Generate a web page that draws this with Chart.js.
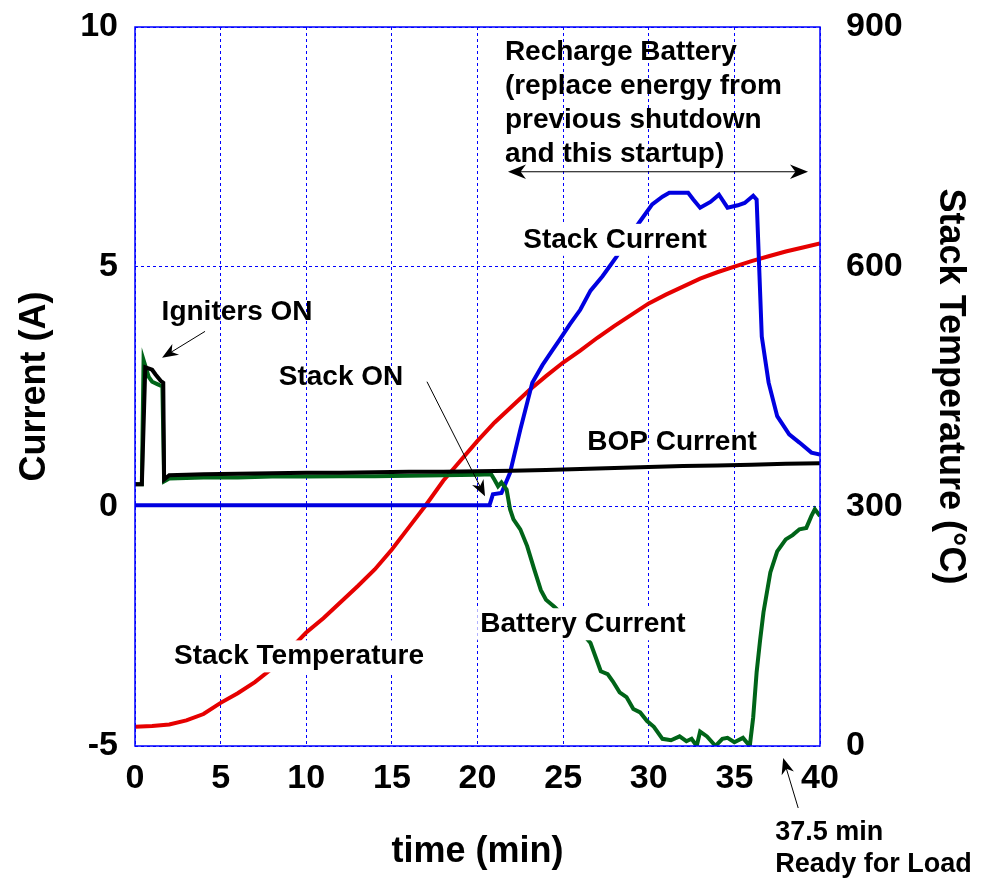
<!DOCTYPE html>
<html>
<head>
<meta charset="utf-8">
<script src="https://cdn.jsdelivr.net/npm/chart.js@4.4.1/dist/chart.umd.min.js"></script>
<style>
  html, body { margin: 0; padding: 0; background: #fff; }
  #wrap { width: 992px; height: 878px; }
</style>
</head>
<body>
<div id="wrap"><canvas id="chart"></canvas></div>
<script>
// time axis ticks (min)
const timeTicks = [0, 5, 10, 15, 20, 25, 30, 35, 40];

// BOP current (A)
const bopTime = [0, 0.4, 0.6, 1.0, 1.2, 1.5, 1.65, 1.7, 2.0, 3, 4, 6, 8, 10, 12, 14, 16, 18, 20, 22, 24, 26, 28, 30, 32, 34, 36, 38, 40];
const bopCurrent = [0.46, 0.46, 2.9, 2.85, 2.75, 2.62, 2.58, 0.56, 0.65, 0.66, 0.67, 0.68, 0.69, 0.7, 0.7, 0.71, 0.72, 0.72, 0.73, 0.74, 0.76, 0.78, 0.8, 0.82, 0.84, 0.85, 0.87, 0.89, 0.9];

// Battery current (A)
const batTime = [0, 0.4, 0.5, 0.8, 1.0, 1.3, 1.6, 1.7, 2.0, 4, 6, 8, 10, 12, 14, 16, 18, 20, 20.8, 21.0, 21.2, 21.4, 21.7, 21.9, 22.1, 22.5, 22.9, 23.3, 23.7, 24.0, 24.5, 25.2, 26.0, 26.6, 27.2, 27.6, 27.9, 28.3, 28.7, 29.1, 29.5, 29.9, 30.3, 30.8, 31.3, 31.8, 32.2, 32.5, 32.8, 33.0, 33.4, 33.9, 34.3, 34.6, 35.0, 35.5, 35.9, 36.1, 36.3, 36.5, 36.7, 37.1, 37.5, 38.0, 38.4, 38.8, 39.2, 39.5, 39.7, 40];
const batCurrent = [0.46, 0.46, 3.05, 2.7, 2.6, 2.55, 2.5, 0.52, 0.58, 0.6, 0.6, 0.62, 0.62, 0.63, 0.63, 0.64, 0.65, 0.66, 0.67, 0.55, 0.42, 0.5, 0.35, -0.06, -0.27, -0.48, -0.83, -1.3, -1.75, -1.95, -2.1, -2.35, -2.6, -2.85, -3.44, -3.5, -3.65, -3.88, -3.98, -4.23, -4.3, -4.48, -4.6, -4.85, -4.88, -4.8, -4.9, -4.85, -5.0, -4.7, -4.8, -5.0, -4.85, -4.83, -4.92, -4.83, -5.0, -4.4, -3.46, -2.8, -2.21, -1.38, -0.94, -0.69, -0.6, -0.48, -0.45, -0.2, -0.06, -0.2];

// Stack current (A)
const stackTime = [0, 20.7, 20.9, 21.4, 21.9, 22.5, 23.2, 23.8, 24.4, 24.8, 25.4, 26.0, 26.6, 27.3, 28.1, 28.8, 29.6, 30.2, 30.8, 31.2, 32.3, 32.6, 33.0, 33.6, 34.1, 34.6, 35.2, 35.6, 36.1, 36.3, 36.6, 37.0, 37.5, 38.2, 38.8, 39.5, 40];
const stackCurrent = [0.02, 0.02, 0.25, 0.28, 0.7, 1.6, 2.58, 2.95, 3.27, 3.48, 3.8, 4.1, 4.5, 4.8, 5.2, 5.6, 6.0, 6.3, 6.46, 6.54, 6.54, 6.4, 6.23, 6.35, 6.5, 6.23, 6.28, 6.33, 6.48, 6.4, 3.54, 2.58, 1.88, 1.5, 1.33, 1.12, 1.08];

// Stack temperature (°C), right axis
const tempTime = [0, 1, 2, 3, 4, 5, 6, 7, 8, 9, 10, 11, 12, 13, 14, 15, 16, 17, 18, 19, 20, 21, 22, 23, 24, 25, 26, 27, 28, 29, 30, 31, 32, 33, 34, 35, 36, 37, 38, 39, 40];
const tempValues = [24, 25, 27, 32, 40, 54, 66, 80, 97, 120, 142, 160, 180, 200, 221, 246, 274, 302, 332, 357, 382, 405, 425, 445, 463, 480, 495, 511, 526, 540, 554, 565, 575, 585, 593, 600, 607, 613, 619, 624, 629];

const FONT = '"Liberation Sans", Arial, Helvetica, sans-serif';
const GRID_BLUE = '#0000ff';

function pts(xs, ys) {
  return xs.map((x, i) => ({ x: x, y: ys[i] }));
}

function drawArrow(ctx, x1, y1, x2, y2, size) {
  const a = Math.atan2(y2 - y1, x2 - x1);
  ctx.beginPath();
  ctx.moveTo(x1, y1);
  ctx.lineTo(x2 - Math.cos(a) * size * 0.6, y2 - Math.sin(a) * size * 0.6);
  ctx.stroke();
  ctx.save();
  ctx.translate(x2, y2);
  ctx.rotate(a);
  ctx.beginPath();
  ctx.moveTo(0, 0);
  ctx.lineTo(-size, -size * 0.4);
  ctx.lineTo(-size * 0.7, 0);
  ctx.lineTo(-size, size * 0.4);
  ctx.closePath();
  ctx.fill();
  ctx.restore();
}

function label(ctx, text, cx, cy, whiteBg) {
  ctx.font = 'bold 28px ' + FONT;
  ctx.textAlign = 'center';
  ctx.textBaseline = 'middle';
  if (whiteBg) {
    const w = ctx.measureText(text).width;
    ctx.fillStyle = '#fff';
    ctx.fillRect(cx - w / 2 - 3, cy - 16, w + 6, 32);
  }
  ctx.fillStyle = '#000';
  ctx.fillText(text, cx, cy);
}

// frame + text annotations on top of the lines
const annotations = {
  id: 'annotations',
  afterDatasetsDraw(chart) {
    const { ctx, chartArea: ca, scales } = chart;
    const px = v => scales.x.getPixelForValue(v);
    const py = v => scales.y.getPixelForValue(v);
    ctx.save();

    // plot frame
    ctx.strokeStyle = GRID_BLUE;
    ctx.lineWidth = 1.5;
    ctx.strokeRect(ca.left, ca.top, ca.right - ca.left, ca.bottom - ca.top);

    label(ctx, 'Stack Current', px(28.03), py(5.56), true);
    label(ctx, 'BOP Current', px(31.36), py(1.33), false);
    label(ctx, 'Battery Current', px(26.16), py(-2.46), true);
    label(ctx, 'Stack Temperature', px(9.58), py(-3.13), true);
    label(ctx, 'Igniters ON', px(5.96), py(4.05), false);
    label(ctx, 'Stack ON', px(12.03), py(2.69), false);

    // recharge text block
    ctx.font = 'bold 28px ' + FONT;
    ctx.textAlign = 'left';
    ctx.textBaseline = 'alphabetic';
    ctx.fillStyle = '#000';
    const lines = ['Recharge Battery', '(replace energy from', 'previous shutdown', 'and this startup)'];
    lines.forEach((t, i) => ctx.fillText(t, px(21.6), ca.top + 33 + i * 34));

    ctx.strokeStyle = '#000';
    ctx.fillStyle = '#000';
    ctx.lineWidth = 1;
    // double arrow
    drawArrow(ctx, px(30), py(6.98), px(39.3), py(6.98), 18);
    drawArrow(ctx, px(30), py(6.98), px(21.78), py(6.98), 18);
    // igniters
    drawArrow(ctx, px(4.09), py(3.65), px(1.58), py(3.1), 16);
    // stack on
    drawArrow(ctx, px(17.05), py(2.6), px(20.44), py(0.21), 16);

    // ready for load
    const rx = px(37.5);
    drawArrow(ctx, rx + 21, ca.bottom + 62, rx + 6, ca.bottom + 12, 16);
    ctx.font = 'bold 27px ' + FONT;
    ctx.textAlign = 'left';
    ctx.fillText('37.5 min', rx - 2, ca.bottom + 94);
    ctx.fillText('Ready for Load', rx - 2, ca.bottom + 126);

    ctx.restore();
  }
};

const lineStyle = { borderWidth: 4, pointRadius: 0, tension: 0, fill: false };

// fixed axis box sizes so the plot area matches the reference
function fixVertical(width) {
  return s => { s.width = width; s.paddingTop = 0; s.paddingBottom = 0; };
}

new Chart(document.getElementById('chart'), {
  type: 'line',
  data: {
    datasets: [
      Object.assign({ label: 'BOP Current', data: pts(bopTime, bopCurrent), borderColor: '#000000', yAxisID: 'y' }, lineStyle),
      Object.assign({ label: 'Battery Current', data: pts(batTime, batCurrent), borderColor: '#006418', yAxisID: 'y' }, lineStyle),
      Object.assign({ label: 'Stack Current', data: pts(stackTime, stackCurrent), borderColor: '#0000e0', yAxisID: 'y' }, lineStyle),
      Object.assign({ label: 'Stack Temperature', data: pts(tempTime, tempValues), borderColor: '#e60000', yAxisID: 'y1' }, lineStyle)
    ]
  },
  options: {
    responsive: true,
    maintainAspectRatio: false,
    animation: false,
    layout: { padding: { top: 27, left: 0, right: 0, bottom: 0 } },
    plugins: { legend: { display: false }, tooltip: { enabled: false } },
    scales: {
      x: {
        type: 'linear',
        min: 0, max: 40,
        afterBuildTicks: s => { s.ticks = timeTicks.map(v => ({ value: v })); },
        afterFit: s => { s.height = 132; s.paddingLeft = 0; s.paddingRight = 0; },
        grid: { color: GRID_BLUE, lineWidth: 1, drawTicks: false },
        border: { display: false, dash: [3, 3] },
        ticks: { color: '#000', padding: 12, font: { family: FONT, size: 34, weight: 'bold' }, maxRotation: 0 },
        title: { display: true, text: 'time (min)', color: '#000', padding: { top: 0, bottom: 4 }, font: { family: FONT, size: 36, weight: 'bold' } }
      },
      y: {
        position: 'left',
        min: -5, max: 10,
        ticks: { stepSize: 5, color: '#000', padding: 17, font: { family: FONT, size: 34, weight: 'bold' } },
        afterFit: fixVertical(135),
        grid: { color: GRID_BLUE, lineWidth: 1, drawTicks: false },
        border: { display: false, dash: [3, 3] },
        title: { display: true, text: 'Current (A)', color: '#000', padding: { top: 13, bottom: 0 }, font: { family: FONT, size: 36, weight: 'bold' } }
      },
      y1: {
        position: 'right',
        min: 0, max: 900,
        ticks: { stepSize: 300, color: '#000', padding: 18, font: { family: FONT, size: 34, weight: 'bold' } },
        afterFit: fixVertical(172),
        grid: { display: false },
        border: { display: false },
        title: { display: true, text: 'Stack Temperature (°C)', color: '#000', padding: { top: 20, bottom: 0 }, font: { family: FONT, size: 36, weight: 'bold' } }
      }
    }
  },
  plugins: [annotations]
});
</script>
</body>
</html>
